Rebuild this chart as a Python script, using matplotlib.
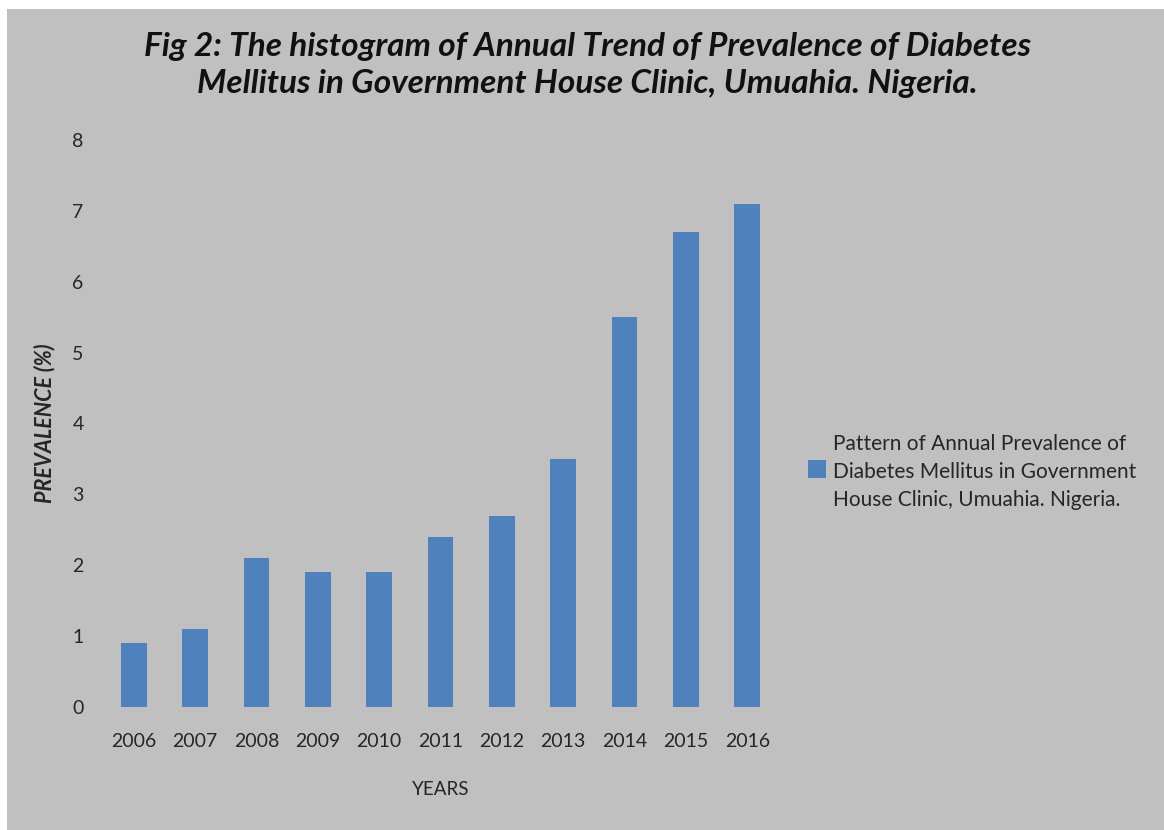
import matplotlib.pyplot as plt
import matplotlib.patches as mpatches

years = ["2006", "2007", "2008", "2009", "2010", "2011", "2012", "2013", "2014", "2015", "2016"]
prevalence = [0.9, 1.1, 2.1, 1.9, 1.9, 2.4, 2.7, 3.5, 5.5, 6.7, 7.1]
legend_label = "Pattern of Annual Prevalence of\nDiabetes Mellitus in Government\nHouse Clinic, Umuahia. Nigeria."
title = "Fig 2: The histogram of Annual Trend of Prevalence of Diabetes\nMellitus in Government House Clinic, Umuahia. Nigeria."

bg = "#c0c0c0"
bar_color = "#4f81bd"
plt.rcParams['font.family'] = ['Lato', 'DejaVu Sans']

fig = plt.figure(figsize=(11.64, 8.30), dpi=100)
fig.patch.set_facecolor("white")
# gray chart area (white margin at left/top)
fig.patches.append(mpatches.Rectangle((7 / 1164, -0.02), 1.05, 1.02 - 9 / 830,
                                      transform=fig.transFigure, facecolor=bg,
                                      edgecolor="none", zorder=-10))

ax = fig.add_axes([103 / 1164, 1 - 707 / 830, 675 / 1164, 567 / 830])
ax.set_facecolor(bg)
ax.bar(range(len(years)), prevalence, width=0.42, color=bar_color)
ax.set_xlim(-0.5, len(years) - 0.5)
ax.set_ylim(0, 8)
ax.set_xticks(range(len(years)))
ax.set_xticklabels(years, fontsize=14, color="#262626")
ax.set_yticks(range(0, 9))
ax.tick_params(axis="both", length=0, labelsize=14, labelcolor="#262626")
ax.tick_params(axis="x", pad=19)
ax.tick_params(axis="y", pad=14)
for s in ax.spines.values():
    s.set_visible(False)

ax.set_xlabel("YEARS", fontsize=13.5, color="#262626", labelpad=22)
ax.set_ylabel("PREVALENCE (%)", fontsize=15.5, fontweight="bold", fontstyle="italic",
              color="#262626", labelpad=12)

fig.text(0.505, 1 - 65 / 830, title, ha="center", va="center", fontsize=24,
         fontweight="bold", fontstyle="italic", color="#111111", linespacing=1.3)

# legend
fig.patches.append(mpatches.Rectangle((808 / 1164, 1 - 478 / 830), 18 / 1164, 18 / 830,
                                      transform=fig.transFigure, facecolor=bar_color,
                                      edgecolor="none"))
fig.text(833 / 1164, 1 - 472 / 830, legend_label, ha="left", va="center", fontsize=15,
         color="#262626", linespacing=1.5)

fig.savefig("out.png", dpi=100, facecolor=fig.get_facecolor())
